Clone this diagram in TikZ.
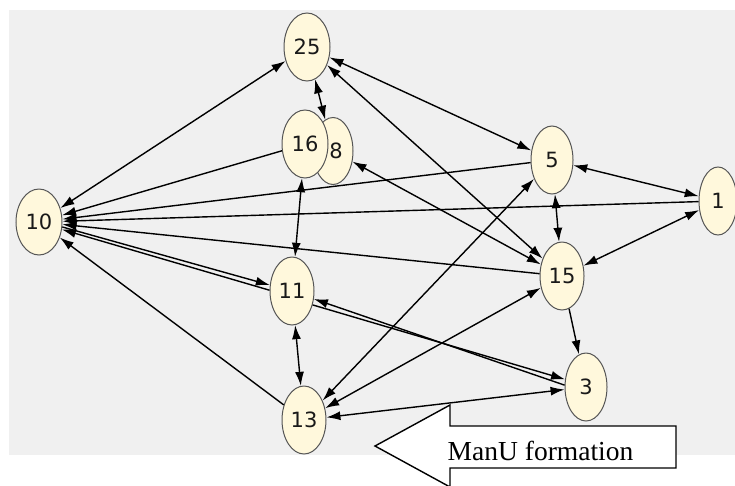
\documentclass[tikz,border=0pt]{standalone}
\usepackage{fontspec}
\setmainfont{Liberation Serif}
\newfontfamily\nodefont{DejaVu Sans}
\usetikzlibrary{shapes.geometric,arrows.meta}
\definecolor{bg}{HTML}{F0F0F0}
\definecolor{nodefill}{HTML}{FFF8DC}
\definecolor{nodeline}{HTML}{555555}
\begin{document}
\begin{tikzpicture}[x=1pt,y=-1pt,
  vtx/.style={ellipse,draw=nodeline,fill=nodefill,line width=1pt,inner sep=0pt,
    minimum width=44pt,minimum height=68pt,
    font=\nodefont\fontsize{21}{21}\selectfont,text=black!90},
  edge/.style={line width=1.4pt,black},
  one/.style={edge,-{Latex[length=14pt,width=9pt]}},
  both/.style={edge,{Latex[length=14pt,width=9pt]}-{Latex[length=14pt,width=9pt]}},
  callout/.style={draw=black,fill=white,line width=1.4pt,line join=miter}
]
\useasboundingbox (0,0) rectangle (735,485);
\clip (0,0) rectangle (735,485);
\fill[bg] (9,10) rectangle (735,455);

% nodes
\node[vtx,minimum width=46pt] (n25) at (307,47) {25};
\node[vtx,minimum width=40pt,minimum height=67pt] (n8) at (333,151) {\hspace*{6pt}8};
\node[vtx,minimum width=46pt] (n16) at (305,144) {16};
\node[vtx,minimum width=46pt,minimum height=66pt] (n10) at (39,222) {10};
\node[vtx,minimum width=42pt] (n5) at (552,160) {5};
\node[vtx,minimum width=38pt] (n1) at (718,201) {1};
\node[vtx] (n15) at (562,276) {15};
\node[vtx,minimum width=42pt] (n3) at (586,387) {3};
\node[vtx] (n11) at (292,291) {11};
\node[vtx] (n13) at (304,420) {13};

% edges
\draw[both] (n10) -- (n25);
\draw[both] (n25) -- (n8);
\draw[both] (n25) -- (n5);
\draw[both] (n25) -- (n15);
\draw[both] (n8) -- (n15);
\draw[one] (n16) -- (n10);
\draw[one] (n5) -- (n10);
\draw[one] (n1) -- (n10);
\draw[one] (n15) -- (n10);
\draw[one] (n13) -- (n10);
\draw[one] (n10.-12) -- (n11.165);
\draw[one] (n11.178) -- (n10.-18);
\draw[one] (n11.-34) -- (n3.160);
\draw[one] (n3.175) -- (n11.-20);
\draw[both] (n16) -- (n11);
\draw[both] (n11) -- (n13);
\draw[both] (n5) -- (n1);
\draw[both] (n5) -- (n15);
\draw[both] (n1) -- (n15);
\draw[one] (n15) -- (n3);
\draw[both] (n13) -- (n5);
\draw[both] (n13) -- (n15);
\draw[both] (n13) -- (n3);

% callout arrow
\draw[callout] (375,446) -- (450,405) -- (450,426) -- (676,426) -- (676,468)
  -- (450,468) -- (450,487) -- cycle;
\node[anchor=base west,inner sep=0pt,font=\fontsize{27.5}{27.5}\selectfont] (lbl) at (447.5,460.5) {ManU formation};
\end{tikzpicture}
\end{document}
